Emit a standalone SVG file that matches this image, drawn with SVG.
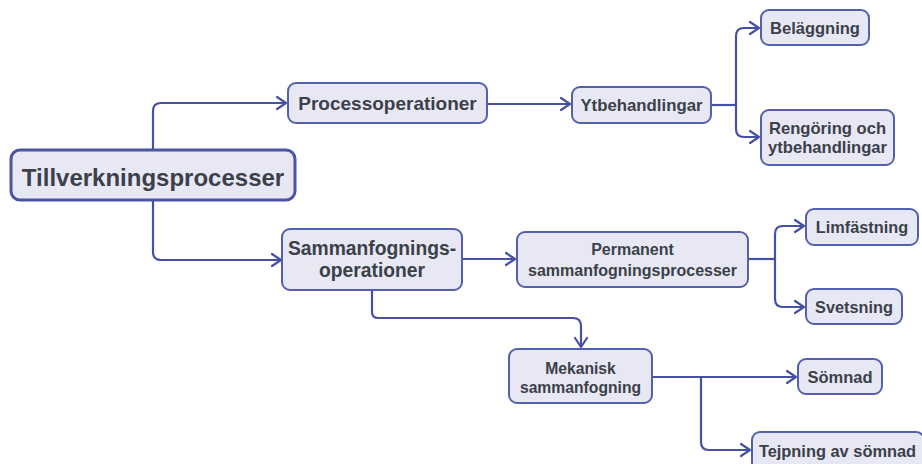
<svg xmlns="http://www.w3.org/2000/svg" width="922" height="464" viewBox="0 0 922 464">
<defs>
<marker id="arr" viewBox="-11 -8 13 16" markerWidth="13" markerHeight="16" refX="0" refY="0" orient="auto" markerUnits="userSpaceOnUse">
<path d="M-9,-6 L0,0 L-9,6" fill="none" stroke="#4650a4" stroke-width="2.2" stroke-linecap="round" stroke-linejoin="round"/>
</marker>
</defs>
<style>
.box{fill:#e7e8f4;stroke:#5560aa;stroke-width:2}
.root{fill:#e7e8f4;stroke:#4a55a4;stroke-width:3}
.t{font-family:"Liberation Sans",Arial,sans-serif;font-weight:bold;fill:#3b4049;text-anchor:middle;dominant-baseline:central}
.edge{fill:none;stroke:#4650a4;stroke-width:2.2;marker-end:url(#arr)}
.line{fill:none;stroke:#4650a4;stroke-width:2.2}
</style>
<rect width="922" height="464" fill="#ffffff"/>
<g id="connectors">
<path class="edge" d="M153,150 V111 Q153,103 161,103 H286"/>
<path class="edge" d="M153,200 V252 Q153,260 161,260 H281"/>
<path class="edge" d="M487,104 H570"/>
<path class="line" d="M711,105 H736"/>
<path class="edge" d="M736,105 V36 Q736,28 744,28 H759"/>
<path class="edge" d="M736,105 V129 Q736,137 744,137 H759"/>
<path class="edge" d="M462,259 H515"/>
<path class="line" d="M748,259 H775"/>
<path class="edge" d="M775,259 V234 Q775,226 783,226 H804"/>
<path class="edge" d="M775,259 V299 Q775,307 783,307 H804"/>
<path class="edge" d="M372,290 V312 Q372,318 378,318 H573 Q581,318 581,326 V347"/>
<path class="edge" d="M652,377 H796"/>
<path class="edge" d="M701,377 V442 Q701,450 709,450 H750"/>
</g>
<g id="n-tillverkning">
<rect class="root" x="11" y="150" width="284" height="50" rx="9"/>
<text class="t" x="153" y="177" font-size="24">Tillverkningsprocesser</text>
</g>
<g id="n-process">
<rect class="box" x="288" y="83" width="199" height="40" rx="8"/>
<text class="t" x="387.5" y="103" font-size="19">Processoperationer</text>
</g>
<g id="n-ytb">
<rect class="box" x="572" y="87" width="139" height="36" rx="8"/>
<text class="t" x="641.5" y="105" font-size="16.8">Ytbehandlingar</text>
</g>
<g id="n-belaggning">
<rect class="box" x="761" y="10" width="108" height="35" rx="8"/>
<text class="t" x="815" y="27.5" font-size="16.5">Beläggning</text>
</g>
<g id="n-rengoring">
<rect class="box" x="761" y="110" width="133" height="55" rx="8"/>
<text class="t" x="827.5" y="128" font-size="16.6">Rengöring och</text>
<text class="t" x="827.5" y="147" font-size="16.6">ytbehandlingar</text>
</g>
<g id="n-sammanfogning">
<rect class="box" x="282" y="229" width="180" height="61" rx="8"/>
<text class="t" x="372" y="248" font-size="19.3">Sammanfognings-</text>
<text class="t" x="372" y="270" font-size="19.3">operationer</text>
</g>
<g id="n-permanent">
<rect class="box" x="517" y="232" width="231" height="55" rx="8"/>
<text class="t" x="632.5" y="249" font-size="16">Permanent</text>
<text class="t" x="632.5" y="270" font-size="16">sammanfogningsprocesser</text>
</g>
<g id="n-limfastning">
<rect class="box" x="806" y="209" width="112" height="36" rx="8"/>
<text class="t" x="862" y="227" font-size="16.3">Limfästning</text>
</g>
<g id="n-svetsning">
<rect class="box" x="806" y="289" width="96" height="35" rx="8"/>
<text class="t" x="854" y="306.5" font-size="16.3">Svetsning</text>
</g>
<g id="n-mekanisk">
<rect class="box" x="509" y="349" width="143" height="54" rx="8"/>
<text class="t" x="580.5" y="368" font-size="15.7">Mekanisk</text>
<text class="t" x="580.5" y="387" font-size="15.7">sammanfogning</text>
</g>
<g id="n-somnad">
<rect class="box" x="798" y="359" width="84" height="35" rx="8"/>
<text class="t" x="840" y="377" font-size="16.5">Sömnad</text>
</g>
<g id="n-tejpning">
<rect class="box" x="752" y="432" width="172" height="42" rx="8"/>
<text class="t" x="837.5" y="451" font-size="16.4">Tejpning av sömnad</text>
</g>
</svg>
